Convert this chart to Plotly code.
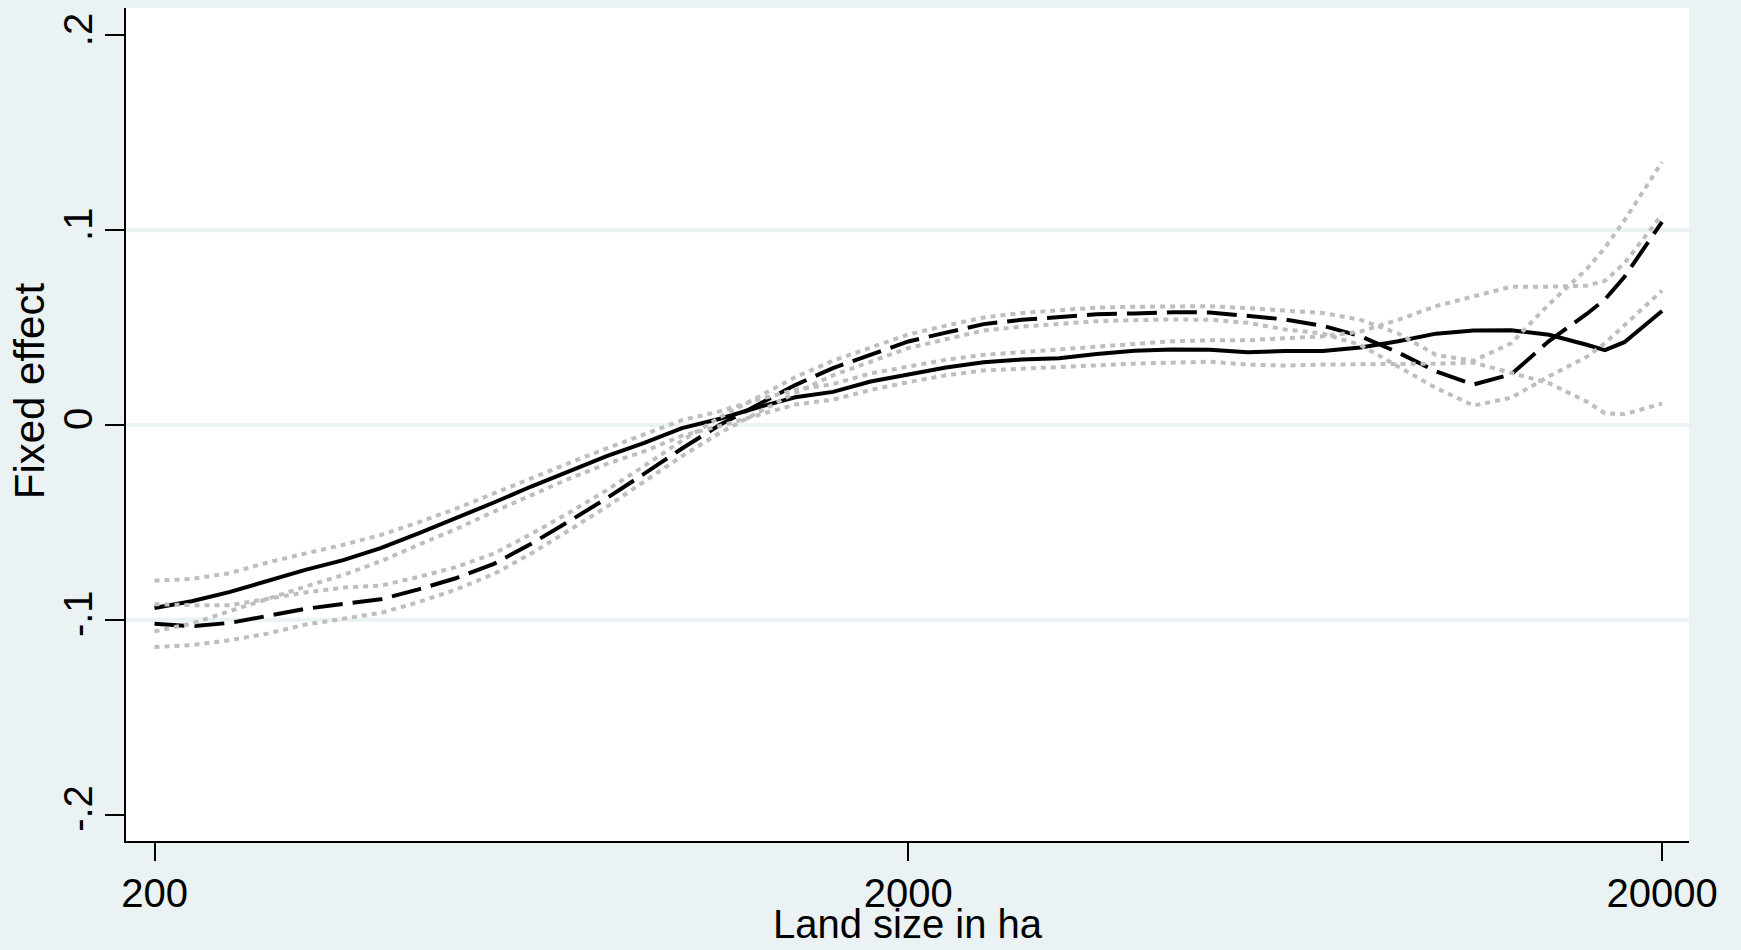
import plotly.graph_objects as go

# Land size grid (ha), log-spaced evaluation points
land_size = [200, 224, 252, 283, 317, 356, 399, 448, 502, 564,
             632, 710, 796, 893, 1002, 1125, 1262, 1416, 1589, 1783,
             2000, 2244, 2518, 2825, 3170, 3557, 3991, 4478, 5024, 5637,
             6325, 7097, 7962, 8934, 10024, 11247, 12619, 14159, 15887, 16800,
             17825, 20000]

# Estimate 1 (solid) and its confidence band
est_solid = [-0.0940, -0.0905, -0.0857, -0.0798, -0.0744, -0.0694, -0.0632, -0.0557, -0.0481, -0.0398,
             -0.0316, -0.0235, -0.0160, -0.0092, -0.0016, 0.0032, 0.0090, 0.0142, 0.0170, 0.0223,
             0.0260, 0.0295, 0.0322, 0.0336, 0.0343, 0.0365, 0.0381, 0.0388, 0.0386, 0.0373,
             0.0380, 0.0380, 0.0398, 0.0430, 0.0469, 0.0485, 0.0486, 0.0463, 0.0412, 0.0384,
             0.0425, 0.0585]
ci_solid_hi = [-0.0800, -0.0790, -0.0760, -0.0705, -0.0660, -0.0615, -0.0565, -0.0500, -0.0430, -0.0350,
               -0.0275, -0.0195, -0.0120, -0.0050, 0.0025, 0.0070, 0.0130, 0.0180, 0.0210, 0.0265,
               0.0300, 0.0335, 0.0360, 0.0375, 0.0385, 0.0400, 0.0420, 0.0430, 0.0435, 0.0435,
               0.0445, 0.0455, 0.0480, 0.0540, 0.0610, 0.0660, 0.0710, 0.0710, 0.0715, 0.0740,
               0.0830, 0.1080]
ci_solid_lo = [-0.1060, -0.1020, -0.0955, -0.0890, -0.0830, -0.0770, -0.0700, -0.0615, -0.0535, -0.0445,
               -0.0360, -0.0275, -0.0200, -0.0135, -0.0055, -0.0005, 0.0050, 0.0105, 0.0130, 0.0180,
               0.0220, 0.0255, 0.0280, 0.0290, 0.0300, 0.0310, 0.0315, 0.0320, 0.0325, 0.0310,
               0.0305, 0.0310, 0.0310, 0.0310, 0.0315, 0.0320, 0.0270, 0.0215, 0.0120, 0.0060,
               0.0055, 0.0110]

# Estimate 2 (dashed) and its confidence band
est_dashed = [-0.1020, -0.1033, -0.1016, -0.0979, -0.0944, -0.0919, -0.0895, -0.0844, -0.0787, -0.0713,
              -0.0610, -0.0494, -0.0376, -0.0250, -0.0121, 0.0001, 0.0103, 0.0205, 0.0292, 0.0362,
              0.0429, 0.0474, 0.0518, 0.0540, 0.0554, 0.0568, 0.0573, 0.0579, 0.0578, 0.0562,
              0.0542, 0.0509, 0.0456, 0.0372, 0.0275, 0.0208, 0.0260, 0.0431, 0.0570, 0.0645,
              0.0760, 0.1043]
ci_dashed_hi = [-0.0920, -0.0925, -0.0925, -0.0890, -0.0860, -0.0835, -0.0825, -0.0780, -0.0730, -0.0660,
                -0.0560, -0.0450, -0.0335, -0.0210, -0.0080, 0.0040, 0.0145, 0.0245, 0.0330, 0.0400,
                0.0465, 0.0510, 0.0552, 0.0575, 0.0590, 0.0603, 0.0607, 0.0610, 0.0610, 0.0600,
                0.0590, 0.0575, 0.0540, 0.0470, 0.0360, 0.0330, 0.0420, 0.0620, 0.0800, 0.0910,
                0.1050, 0.1350]
ci_dashed_lo = [-0.1140, -0.1130, -0.1105, -0.1070, -0.1025, -0.0995, -0.0965, -0.0910, -0.0845, -0.0765,
                -0.0660, -0.0540, -0.0420, -0.0290, -0.0160, -0.0040, 0.0060, 0.0165, 0.0255, 0.0325,
                0.0395, 0.0440, 0.0485, 0.0505, 0.0518, 0.0533, 0.0538, 0.0542, 0.0540, 0.0525,
                0.0490, 0.0470, 0.0410, 0.0300, 0.0190, 0.0100, 0.0140, 0.0250, 0.0350, 0.0420,
                0.0510, 0.0690]

x_tick_vals = [200, 2000, 20000]
x_tick_text = ["200", "2000", "20000"]
y_tick_vals = [-0.2, -0.1, 0, 0.1, 0.2]
y_tick_text = ["-.2", "-.1", "0", ".1", ".2"]
grid_vals = [-0.1, 0, 0.1]

BG = "#eaf2f3"
GRAY = "#bebebe"
FONT = "Liberation Sans, Arial, sans-serif"

fig = go.Figure()
fig.add_trace(go.Scatter(x=land_size, y=est_solid, mode="lines",
                         line=dict(color="black", width=4), showlegend=False))
fig.add_trace(go.Scatter(x=land_size, y=est_dashed, mode="lines",
                         line=dict(color="black", width=4, dash="30px,10px"), showlegend=False))
for series in (ci_solid_hi, ci_solid_lo, ci_dashed_hi, ci_dashed_lo):
    fig.add_trace(go.Scatter(x=land_size, y=series, mode="lines",
                             line=dict(color=GRAY, width=4, dash="5px,5px"), showlegend=False))

for g in grid_vals:
    fig.add_shape(type="line", xref="paper", x0=0, x1=1, yref="y", y0=g, y1=g,
                  line=dict(color=BG, width=4), layer="below")

fig.update_layout(
    width=1741, height=950,
    paper_bgcolor=BG, plot_bgcolor="white",
    margin=dict(l=126, r=52, t=8, b=109),
    font=dict(family=FONT, size=40, color="black"),
    xaxis=dict(type="log", range=[2.2632, 4.3368],
               tickvals=x_tick_vals, ticktext=x_tick_text,
               ticks="outside", ticklen=18, tickwidth=2, tickcolor="black",
               showline=True, linecolor="black", linewidth=2,
               showgrid=False, zeroline=False,
               tickfont=dict(family=FONT, size=40), ticklabelstandoff=-2),
    yaxis=dict(range=[-0.2136, 0.2141],
               tickvals=y_tick_vals, ticktext=y_tick_text, tickangle=-90,
               ticks="outside", ticklen=19, tickwidth=2, tickcolor="black",
               showline=True, linecolor="black", linewidth=2,
               showgrid=False, zeroline=False,
               tickfont=dict(family=FONT, size=40), ticklabelstandoff=-3),
    annotations=[
        dict(text="Land size in ha", xref="paper", yref="paper", x=0.5, y=-0.1285,
             xanchor="center", yanchor="bottom", showarrow=False,
             font=dict(family=FONT, size=40)),
        dict(text="Fixed effect", xref="paper", yref="paper", x=-0.062, y=0.540,
             xanchor="center", yanchor="middle", showarrow=False, textangle=-90,
             font=dict(family=FONT, size=42)),
    ],
)

fig.write_html(
    "out.html",
    config={"displayModeBar": False},
    post_script="document.body.style.margin='0';document.body.style.background='%s';"
                "document.documentElement.style.overflow='hidden';" % BG,
)
